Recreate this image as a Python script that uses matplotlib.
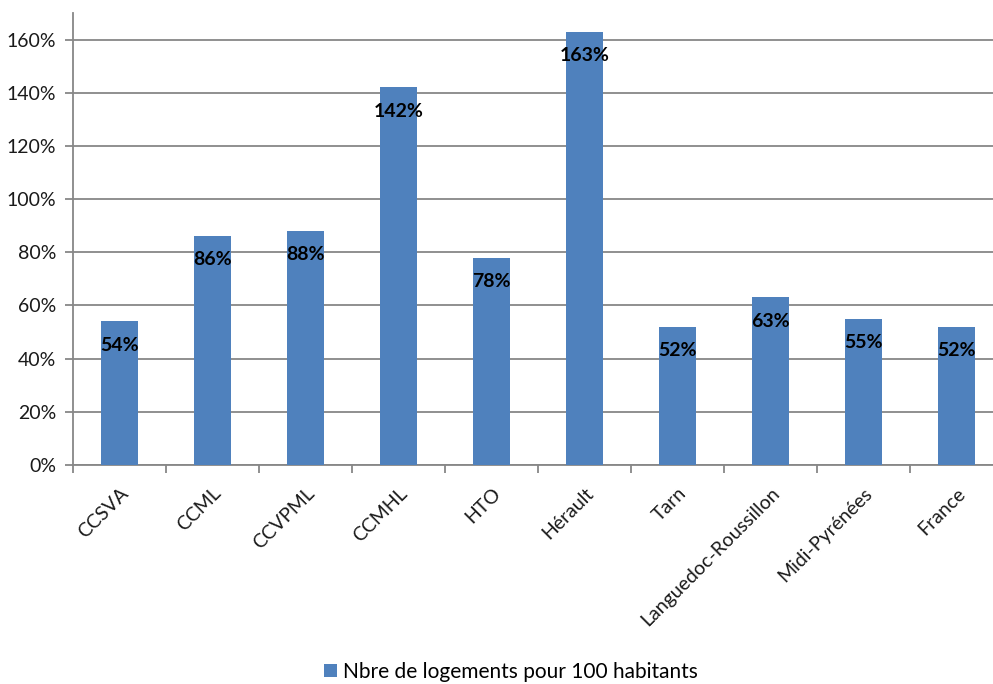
import numpy as np
import matplotlib.pyplot as plt
from matplotlib.ticker import PercentFormatter

plt.rcParams['font.family'] = ['Lato', 'DejaVu Sans']

categories = ['CCSVA', 'CCML', 'CCVPML', 'CCMHL', 'HTO', 'Hérault', 'Tarn',
              'Languedoc-Roussillon', 'Midi-Pyrénées', 'France']
values = [54, 86, 88, 142, 78, 163, 52, 63, 55, 52]
series_name = 'Nbre de logements pour 100 habitants'

bar_color = '#4F81BD'
grid_color = '#878787'

fig = plt.figure(figsize=(9.93, 6.84), dpi=100)
# the plot area runs a little past the right edge of the figure
ax = fig.add_axes([73 / 993, 219 / 684, 930 / 993, 452 / 684])

x = np.arange(len(categories))
bars = ax.bar(x, values, width=0.4, color=bar_color, zorder=3, label=series_name)

ax.set_xlim(-0.5, len(categories) - 0.5)
ax.set_ylim(0, 170)
ax.set_yticks(np.arange(0, 161, 20))
ax.yaxis.set_major_formatter(PercentFormatter(decimals=0))
ax.grid(axis='y', color=grid_color, linewidth=1.3, zorder=0)

for s in ['top', 'right']:
    ax.spines[s].set_visible(False)
for s in ['left', 'bottom']:
    ax.spines[s].set_color(grid_color)
    ax.spines[s].set_linewidth(1.3)

# category labels between boundary ticks
ax.set_xticks(np.arange(len(categories) + 1) - 0.5)
ax.set_xticklabels([])
ax.tick_params(axis='x', length=6, color=grid_color, width=1.3)
ax.set_xticks(x, minor=True)
ax.set_xticklabels(categories, minor=True, rotation=45, ha='right',
                   rotation_mode='anchor', fontsize=14, color='#1a1a1a')
ax.tick_params(axis='x', which='minor', length=0, pad=14)
ax.tick_params(axis='y', length=6, color=grid_color, width=1.3,
               labelsize=14, labelcolor='#1a1a1a', pad=6)

for xi, v in zip(x, values):
    ax.annotate(f'{v}%', (xi, v), xytext=(0, -17), textcoords='offset points',
                ha='center', va='center', fontsize=14, fontweight='bold',
                color='black', zorder=4)

fig.legend(handles=[bars], labels=[series_name], loc='center',
           bbox_to_anchor=(511 / 993, 1 - 672 / 684), frameon=False,
           fontsize=15, handlelength=0.6, handleheight=0.6, handletextpad=0.3)

fig.savefig('out.png', dpi=100)
